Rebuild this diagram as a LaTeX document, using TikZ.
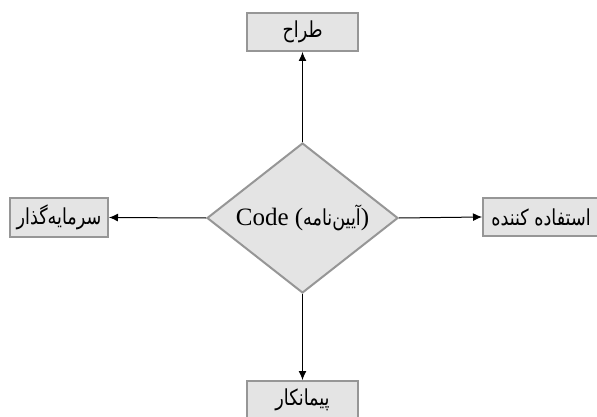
\documentclass[tikz,border=0pt]{standalone}
\usepackage{fontspec}
\setmainfont{Liberation Serif}
\newfontfamily\farsi[Script=Arabic,FakeStretch=0.8]{DejaVu Sans}
\TeXXeTstate=1
\usepackage{xcolor}
\usepackage{tikz}
\usetikzlibrary{shapes.geometric}
\usetikzlibrary{arrows.meta}
\definecolor{boxgray}{RGB}{150,150,150}
\definecolor{boxfill}{RGB}{228,228,228}
\def\fa#1{{\farsi\fontsize{11pt}{13pt}\selectfont\beginR #1\endR}}

\begin{document}
\begin{tikzpicture}[x=0.5pt,y=-0.5pt,
	role/.style={draw=boxgray,line width=1pt,fill=boxfill,inner sep=0pt,minimum height=19pt},
	rule/.style={diamond,aspect=1.3,draw=boxgray,line width=1pt,fill=boxfill,inner sep=0pt,minimum width=95.5pt,minimum height=75pt},
	link/.style={-{Latex[length=4.5pt,width=4pt]},line width=0.5pt}]
					\useasboundingbox (0,0) rectangle (597,416);
					\node[rule] (code) at (302.5,218) {\fontsize{12.5pt}{14pt}\selectfont Code (\fa{آیین‌نامه})};
					\node[role,minimum width=55.5pt] (designer) at (302.5,32) {\fa{طراح}};
					\node[role,minimum width=49pt] (investor) at (59,217.5) {\fa{سرمایه‌گذار}};
					\node[role,minimum width=58pt] (user) at (541,217) {\fa{استفاده کننده}};
					\node[role,minimum width=55.5pt] (contractor) at (302.5,400) {\fa{پیمانکار}};
					\draw[link] (code.north)--(designer.south);
					\draw[link] (code.west)--(investor.east);
					\draw[link] (code.east)--(user.west);
					\draw[link] (code.south)--(contractor.north);
				\end{tikzpicture}
\end{document}
